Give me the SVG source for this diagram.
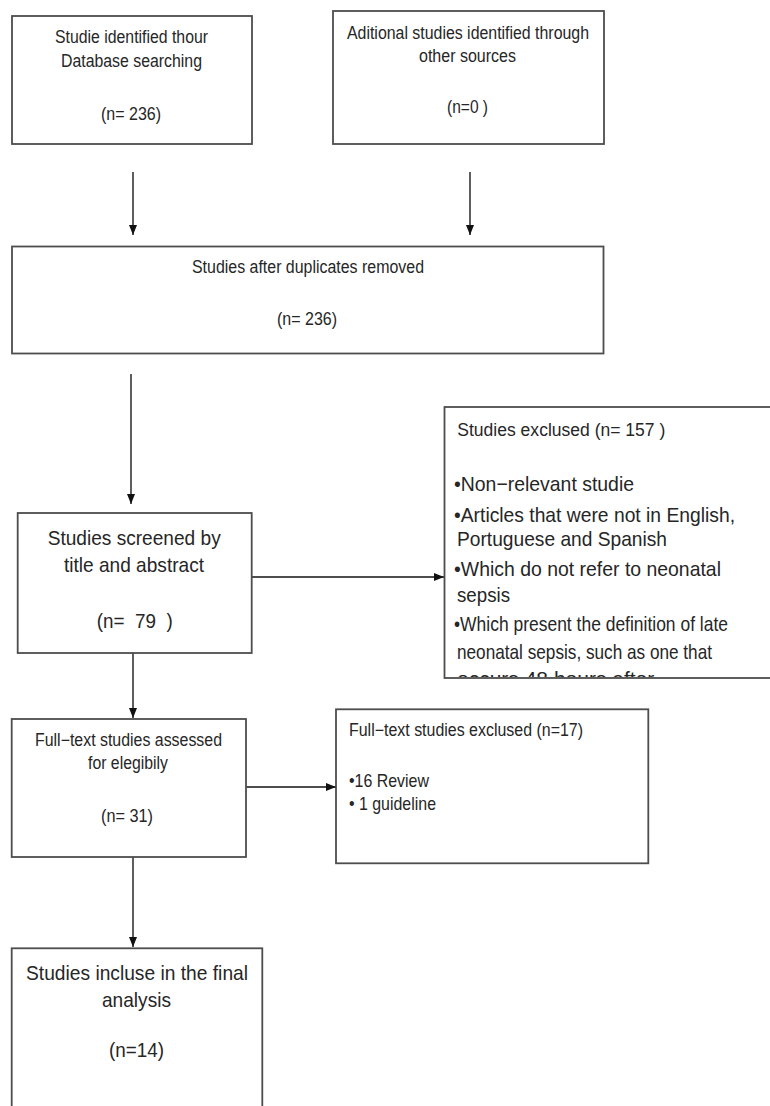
<svg xmlns="http://www.w3.org/2000/svg" width="770" height="1106" viewBox="0 0 770 1106">
<style>
  .box{fill:#fff;stroke:#4d4d4d;stroke-width:1.8}
  text{font-family:"Liberation Sans",Arial,sans-serif;fill:#262626;white-space:pre}
  .s{font-size:17.5px}
  .m{font-size:18.5px}
  .b{font-size:21px}
  .tiny{font-size:12px}
  .conn line{stroke:#4d4d4d;stroke-width:1.8;fill:none}
</style>
<defs>
  <marker id="ah" markerUnits="userSpaceOnUse" markerWidth="10" markerHeight="8" refX="10" refY="4" orient="auto">
    <path d="M0,0 L10,4 L0,8 z" fill="#111"/>
  </marker>
  <clipPath id="clipEx"><rect x="444" y="406" width="330" height="271"/></clipPath>
</defs>
<rect width="770" height="1106" fill="#fff"/>

<g id="n1">
  <rect class="box" x="12" y="16" width="240" height="128"/>
  <text class="s" x="55" y="42.5" textLength="153" lengthAdjust="spacingAndGlyphs">Studie identified thour</text>
  <text class="s" x="61" y="66.5" textLength="141" lengthAdjust="spacingAndGlyphs">Database searching</text>
  <text class="s" x="101" y="120" textLength="60" lengthAdjust="spacingAndGlyphs">(n= 236)</text>
</g>

<g id="n2">
  <rect class="box" x="333" y="11" width="271" height="133"/>
  <text class="s" x="347" y="39" textLength="242" lengthAdjust="spacingAndGlyphs">Aditional studies identified through</text>
  <text class="s" x="419" y="61.7" textLength="97" lengthAdjust="spacingAndGlyphs">other sources</text>
  <text class="s" x="447" y="113" textLength="41" lengthAdjust="spacingAndGlyphs">(n=0 )</text>
</g>

<g id="n3">
  <rect class="box" x="12" y="246.5" width="591.5" height="107"/>
  <text class="s" x="192" y="273" textLength="232" lengthAdjust="spacingAndGlyphs">Studies after duplicates removed</text>
  <text class="s" x="277" y="325" textLength="60" lengthAdjust="spacingAndGlyphs">(n= 236)</text>
</g>

<g id="n4">
  <rect class="box" x="17.7" y="513" width="234" height="140"/>
  <text class="b" x="47.7" y="545" textLength="173" lengthAdjust="spacingAndGlyphs">Studies screened by</text>
  <text class="b" x="64" y="571.7" textLength="140" lengthAdjust="spacingAndGlyphs">title and abstract</text>
  <text class="b" x="96.7" y="628" textLength="76" lengthAdjust="spacingAndGlyphs">(n=  79  )</text>
</g>

<g id="n5">
  <rect class="box" x="444.5" y="407" width="340" height="271"/>
  <g clip-path="url(#clipEx)">
    <text class="s" x="457.3" y="436" textLength="208" lengthAdjust="spacingAndGlyphs">Studies exclused (n= 157 )</text>
    <text class="b" x="454" y="491" textLength="180" lengthAdjust="spacingAndGlyphs">•Non−relevant studie</text>
    <text class="b" x="454" y="522" textLength="281" lengthAdjust="spacingAndGlyphs">•Articles that were not in English,</text>
    <text class="b" x="457" y="546" textLength="210" lengthAdjust="spacingAndGlyphs">Portuguese and Spanish</text>
    <text class="b" x="454" y="575.5" textLength="267" lengthAdjust="spacingAndGlyphs">•Which do not refer to neonatal</text>
    <text class="b" x="457" y="602" textLength="53" lengthAdjust="spacingAndGlyphs">sepsis</text>
    <text class="b" x="454" y="630.5" textLength="274" lengthAdjust="spacingAndGlyphs">•Which present the definition of late</text>
    <text class="b" x="457" y="659" textLength="255" lengthAdjust="spacingAndGlyphs">neonatal sepsis, such as one that</text>
    <text class="b" x="457" y="685.5">occurs 48 hours after <tspan class="tiny">birth</tspan></text>
  </g>
</g>

<g id="n6">
  <rect class="box" x="11.7" y="719" width="234.3" height="138"/>
  <text class="s" x="35" y="746" textLength="187" lengthAdjust="spacingAndGlyphs">Full−text studies assessed</text>
  <text class="s" x="88" y="769" textLength="80" lengthAdjust="spacingAndGlyphs">for elegibily</text>
  <text class="s" x="101" y="822" textLength="52" lengthAdjust="spacingAndGlyphs">(n= 31)</text>
</g>

<g id="n7">
  <rect class="box" x="336" y="709.3" width="312.3" height="154"/>
  <text class="s" x="349" y="736" textLength="234" lengthAdjust="spacingAndGlyphs">Full−text studies exclused (n=17)</text>
  <text class="m" x="349" y="787" textLength="80" lengthAdjust="spacingAndGlyphs">•16 Review</text>
  <text class="m" x="349" y="810" textLength="87" lengthAdjust="spacingAndGlyphs">• 1 guideline</text>
</g>

<g id="n8">
  <rect class="box" x="11.7" y="948.3" width="250.6" height="180"/>
  <text class="b" x="26" y="980" textLength="222" lengthAdjust="spacingAndGlyphs">Studies incluse in the final</text>
  <text class="b" x="102" y="1006.5" textLength="69" lengthAdjust="spacingAndGlyphs">analysis</text>
  <text class="b" x="109" y="1056.5" textLength="55" lengthAdjust="spacingAndGlyphs">(n=14)</text>
</g>

<g id="connectors" class="conn">
  <line x1="133" y1="172" x2="133" y2="235" marker-end="url(#ah)"/>
  <line x1="470" y1="172" x2="470" y2="235" marker-end="url(#ah)"/>
  <line x1="131" y1="374" x2="131" y2="504" marker-end="url(#ah)"/>
  <line x1="252" y1="577" x2="444" y2="577" marker-end="url(#ah)"/>
  <line x1="133" y1="653" x2="133" y2="718" marker-end="url(#ah)"/>
  <line x1="246" y1="787" x2="336" y2="787" marker-end="url(#ah)"/>
  <line x1="133" y1="857" x2="133" y2="947" marker-end="url(#ah)"/>
</g>
</svg>
